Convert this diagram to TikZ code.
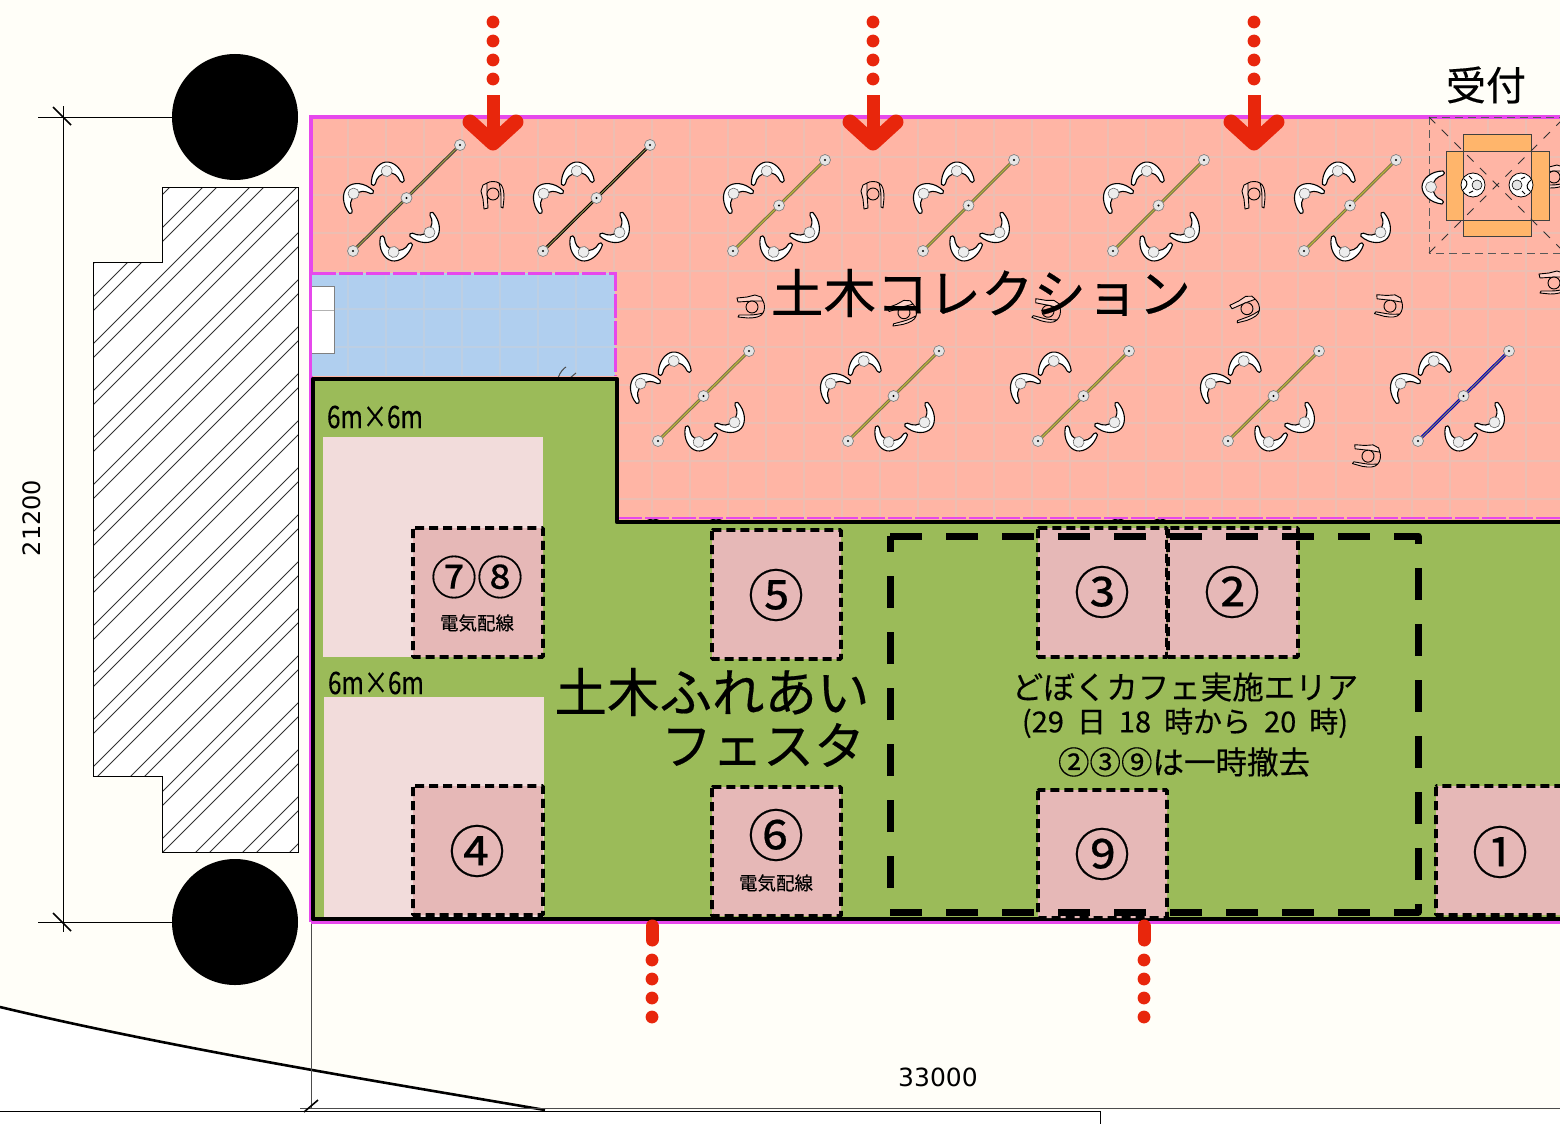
\documentclass[tikz,border=0pt]{standalone}
\usepackage{fontspec}
\setmainfont[FakeBold=0.35]{Noto Sans CJK JP}
\newfontfamily\dimfont{DejaVu Sans}
\newcommand{\szf}[1]{\fontsize{#1}{#1}\selectfont}
\definecolor{pageb}{HTML}{FFFEF8}
\definecolor{pinkf}{HTML}{FFB5A5}
\definecolor{pinkg}{HTML}{EDBEB2}
\definecolor{bluef}{HTML}{B0CFEF}
\definecolor{blueg}{HTML}{BDCFE3}
\definecolor{greenf}{HTML}{9BBB59}
\definecolor{lightp}{HTML}{F2DCDB}
\definecolor{boothf}{HTML}{E6B8B7}
\definecolor{magl}{HTML}{E648EC}
\definecolor{redf}{HTML}{E8260C}
\definecolor{orangef}{HTML}{FFB56B}
\tikzset{
  x=1pt,y=-1pt,
  txt/.style={inner sep=0pt,outer sep=0pt,text=black,align=center},
  booth/.style={fill=boothf,draw=black,line width=3.6pt,dash pattern=on 9pt off 5pt,rounded corners=1pt},
  lightbox/.style={fill=lightp,draw=none},
  dimline/.style={draw=black,line width=0.8pt},
  tick/.style={draw=black,line width=1.6pt},
  reddot/.style={fill=redf,draw=none},
  redshaft/.style={draw=redf,line width=13pt,line cap=round,line join=round},
  redhead/.style={draw=redf,line width=15pt,line cap=round,line join=round},
  person/.pic={
    \path[fill=white,draw=black,line width=1.1pt,line join=round]
      (-16,-10) .. controls (-16,2) and (-8,11) .. (0,11)
      .. controls (8,11) and (16,2) .. (17,-9)
      .. controls (16,-11) and (14,-11) .. (13,-9)
      .. controls (11,-3) and (7,0) .. (0,0)
      .. controls (-7,0) and (-10,-4) .. (-12,-10)
      .. controls (-13,-12) and (-15,-12) .. (-16,-10) -- cycle;
    \path[fill=white!93!black,draw=black!60,line width=0.6pt] (0,2) circle (5.5);
  },
  smallman/.pic={
    \path[draw=black,line width=0.9pt,fill=white!40!pinkf,line join=round]
      (-10,-10) -- (-6,-12) -- (-6,-2) -- (-5,13) -- (-9,14) -- (-10,4) -- (-12,-4) -- cycle;
    \path[draw=black,line width=0.9pt,fill=white!40!pinkf,line join=round]
      (6,-12) .. controls (10,-10) and (11,-4) .. (11,3) -- (10,13) -- (8,12) -- (8,2) .. controls (8,-4) and (7,-8) .. (6,-12) -- cycle;
    \path[draw=black,line width=0.9pt,fill=pinkf] (0,-1) circle (6);
    \path[draw=black,line width=0.9pt] (-6,-12) .. controls (-3,-14) and (3,-14) .. (6,-12);
  },
  topman/.pic={
    \path[fill=white,draw=black,line width=0.8pt] (0,0) circle (12);
    \path[fill=white!90!black,draw=black,line width=0.6pt] (4,0) circle (5);
    \path[draw=black,line width=1pt] (-9,-6) .. controls (-4,-3) and (-6,2) .. (-10,5) (-4,-9) -- (-1,-6) (-4,8) -- (0,6);
  },
}
% table: end x,y ; far-end dx,dy ; line colour ; shift of the two upper people
\newcommand{\tablegrp}[6]{%
  \path pic[rotate=-135] at (#1+2+#6,#2-56) {person};
  \path pic[rotate=188] at (#1+34+#6,#2-78) {person};
  \path pic[rotate=-12] at (#1+41,#2-1) {person};
  \path pic[rotate=48] at (#1+75,#2-20) {person};
  \draw[#5,line width=3pt] (#1,#2) -- (#1+#3,#2-#4);
  \draw[#5!50!yellow,line width=1pt] (#1,#2) -- (#1+#3,#2-#4);
  \foreach \tf in {0,0.5,1}{
    \path[fill=white!90!black,draw=gray,line width=0.7pt] (#1+\tf*#3,#2-\tf*#4) circle (5.5);
    \path[fill=black] (#1+\tf*#3,#2-\tf*#4) circle (1.2);
  }
}
\begin{document}
\begin{tikzpicture}
\useasboundingbox (0,0) rectangle (1560,1124);
% page
\fill[pageb] (0,0) rectangle (1560,1124);
\fill[white] (0,1007) .. controls (180,1050) and (400,1085) .. (545,1110) -- (1560,1110) -- (1560,1124) -- (0,1124) -- cycle;
\draw[black,line width=2.6pt] (0,1007) .. controls (180,1050) and (400,1085) .. (545,1110);
\draw[black,line width=1pt] (0,1111) -- (1100,1111) -- (1100,1124);
% dimension lines
\draw[dimline] (63,106) -- (63,932);
\draw[dimline] (38,117) -- (175,117);
\draw[dimline] (38,922) -- (175,922);
\draw[tick] (53,107) -- (71,125);
\draw[tick] (53,913) -- (71,931);
\draw[dimline,draw=black!70] (311,922) -- (311,1108);
\draw[dimline,draw=black!70] (300,1108) -- (1560,1108);
\draw[tick] (304,1112) -- (318,1100);
% columns
\fill[black] (235,117) circle (63);
\fill[black] (235,922) circle (63);
% hatched building
\fill[white] (298,187) -- (162,187) -- (162,262) -- (93,262) -- (93,776) -- (162,776) -- (162,852) -- (298,852) -- cycle;
\begin{scope}
\clip (298,187) -- (162,187) -- (162,262) -- (93,262) -- (93,776) -- (162,776) -- (162,852) -- (298,852) -- cycle;
\foreach \hk in {0,1,...,24}{
  \draw[black!80,line width=0.9pt] (0,343+47*\hk) -- (400,343+47*\hk-400);
  \draw[black!80,line width=0.9pt] (0,357+47*\hk) -- (400,357+47*\hk-400);
}
\end{scope}
\draw[black,line width=0.9pt] (298,187) -- (162,187) -- (162,262) -- (93,262) -- (93,776) -- (162,776) -- (162,852) -- (298,852) -- cycle;
% collection area
\fill[pinkf] (311,117) rectangle (1560,922);
\foreach \colx in {348,386,...,1560}{\draw[pinkg,line width=1.2pt] (\colx,118) -- (\colx,520);}
\foreach \rowy in {157,195,233,271,309,347,385,423,461,499}{\draw[pinkg,line width=1.2pt] (312,\rowy) -- (1560,\rowy);}
\draw[magl,line width=3.6pt] (311,922) -- (311,117) -- (1560,117);
\draw[magl,line width=3.6pt] (311,922) -- (1560,922);
% blue area
\fill[bluef] (312,273) rectangle (615,376);
\foreach \colx in {348,386,...,600}{\draw[blueg,line width=1.2pt] (\colx,274) -- (\colx,375);}
\foreach \rowy in {309,347}{\draw[blueg,line width=1.2pt] (312,\rowy) -- (614,\rowy);}
\draw[magl,line width=3pt,dash pattern=on 24pt off 3pt] (312,273) -- (615,273) -- (615,376);
\fill[white] (312,286) rectangle (334,353);
\draw[gray,line width=1pt] (312,286) -- (334,286) -- (334,353) -- (312,353);
\draw[gray!60,line width=0.7pt] (312,310) -- (334,310);
\draw[black!70,line width=1pt] (558,378) .. controls (560,372) and (564,368) .. (566,367) (570,378) -- (576,373);
% tables
\tablegrp{353}{251}{107}{106}{black!85!yellow}{0}
\tablegrp{543}{251}{107}{106}{black}{0}
\tablegrp{733}{251}{92}{91}{black!60!yellow}{0}
\tablegrp{923}{251}{91}{91}{black!60!yellow}{0}
\tablegrp{1113}{251}{91}{91}{black!60!yellow}{0}
\tablegrp{1304}{251}{92}{91}{black!60!yellow}{0}
\tablegrp{658}{441}{91}{90}{black!60!yellow}{-18}
\tablegrp{848}{441}{91}{90}{black!60!yellow}{-18}
\tablegrp{1038}{441}{91}{90}{black!60!yellow}{-18}
\tablegrp{1228}{441}{91}{90}{black!60!yellow}{-18}
\tablegrp{1418}{441}{91}{90}{blue!75!black}{-18}
% standing people
\path pic at (493,195) {smallman};
\path pic at (873,195) {smallman};
\path pic at (1254,195) {smallman};
\path pic[rotate=-90] at (751,307) {smallman};
\path pic[rotate=-75] at (903,313) {smallman};
\path pic[rotate=-105] at (1047,311) {smallman};
\path pic[rotate=-70] at (1246,309) {smallman};
\path pic[rotate=-100] at (1389,306) {smallman};
\path pic[rotate=-100] at (1367,456) {smallman};
\path pic[rotate=-90] at (1553,283) {smallman};
\path pic[rotate=-90] at (1553,177) {smallman};
% people hidden behind the green floor
\path pic[rotate=180] at (653,530) {person};
\path pic[rotate=180] at (716,530) {person};
\path pic[rotate=180] at (1118,530) {person};
\path pic[rotate=180] at (1160,530) {person};
% reception
\path[fill=orangef,draw=black!75,line width=1pt] (1463,134) rectangle (1531,151);
\path[fill=orangef,draw=black!75,line width=1pt] (1463,220) rectangle (1531,236);
\path[fill=orangef,draw=black!75,line width=1pt] (1446,151) rectangle (1463,220);
\path[fill=orangef,draw=black!75,line width=1pt] (1531,151) rectangle (1549,220);
\fill[pinkf] (1463,151) rectangle (1531,220);
\draw[black!75,line width=1pt] (1463,151) rectangle (1531,220);
\draw[black!65,line width=1pt,dash pattern=on 8pt off 5pt] (1429,117) -- (1560,117);
\draw[black!65,line width=1pt,dash pattern=on 8pt off 5pt] (1429,117) -- (1429,253) -- (1560,253);
\draw[black!80,line width=0.9pt,dash pattern=on 9pt off 9pt] (1429,117) -- (1565,253);
\draw[black!80,line width=0.9pt,dash pattern=on 9pt off 9pt] (1429,253) -- (1565,117);
\path pic[rotate=0] at (1473,185) {topman};
\path pic[rotate=180] at (1521,185) {topman};
\path pic[rotate=-90] at (1433,187) {person};
% green floor
\fill[greenf] (313,379) -- (617,379) -- (617,521) -- (1560,521) -- (1560,919) -- (313,919) -- cycle;
\draw[magl,line width=2.4pt,dash pattern=on 24pt off 3pt] (618,518) -- (1560,518);
\draw[black,line width=4.8pt,line join=round] (1560,522) -- (617,522) -- (617,379) -- (313,379) -- (313,919) -- (1560,919);
% light pink plots
\path[lightbox] (323,437) rectangle (543,657);
\path[lightbox] (324,697) rectangle (544,917);
% booths
\path[booth] (413,528) rectangle (543,657);
\path[booth] (712,530) rectangle (841,659);
\path[booth] (1038,528) rectangle (1167,657);
\path[booth] (1168,528) rectangle (1298,657);
\path[booth] (413,786) rectangle (543,915);
\path[booth] (712,787) rectangle (841,916);
\path[booth] (1038,790) rectangle (1167,918);
\path[booth] (1436,786) rectangle (1575,915);
% cafe area
\draw[black,line width=7pt,dash pattern=on 32pt off 24pt,line join=round] (890,536) -- (1418,536) -- (1418,912) -- (890,912) -- cycle;
% arrows
\foreach \ax in {493,873,1254}{
  \foreach \ay in {22,41,60,79}{\path[reddot] (\ax,\ay) circle (6.4);}
  \draw[redshaft,line cap=butt] (\ax,95) -- (\ax,140);
  \draw[redhead] (\ax-23,122) -- (\ax,143) -- (\ax+23,122);
}
\foreach \ax in {652,1144}{
  \foreach \ay in {960,979,998,1017}{\path[reddot] (\ax,\ay) circle (6.4);}
  \draw[redshaft] (\ax,926) -- (\ax,940);
}
% texts
\node[txt] (tDim) at (32,518) {\rotatebox{90}{\dimfont\szf{24}21200}};
\node[txt] (tDimB) at (938,1077) {\dimfont\szf{25}33000};
\node[txt] (tUke) at (1486,85) {\szf{40}受付};
\node[txt] (tColl) at (981,293) {\szf{52.5}土木コレクション};
\node[txt] (tFes) at (712,692) {\szf{52.5}土木ふれあい};
\node[txt] (tFes2) at (763,745) {\szf{51}フェスタ};
\node[txt] (tSize1) at (375,417) {\scalebox{0.78}[1]{\szf{31}6m×6m}};
\node[txt] (tSize2) at (376,683) {\scalebox{0.78}[1]{\szf{31}6m×6m}};
\node[txt] (tCafe1) at (1185,687) {\szf{31.5}どぼくカフェ実施エリア};
\node[txt] (tCafe2) at (1185,723) {\szf{29}\spaceskip=13pt\relax (29 日 18 時から 20 時)};
\node[txt] (tCafe3) at (1184,762) {\szf{31.5}②③⑨は一時撤去};
\node[txt] (n78) at (477,577) {\szf{46}⑦⑧};
\node[txt] (n78b) at (477,623) {\szf{18.5}電気配線};
\node[txt] (n5) at (776,595) {\szf{56}⑤};
\node[txt] (n3) at (1102,592) {\szf{56}③};
\node[txt] (n2) at (1232,592) {\szf{56}②};
\node[txt] (n4) at (477,851) {\szf{56}④};
\node[txt] (n6) at (776,835) {\szf{56}⑥};
\node[txt] (n6b) at (776,883) {\szf{18.5}電気配線};
\node[txt] (n9) at (1102,854) {\szf{56}⑨};
\node[txt] (n1) at (1500,852) {\szf{56}①};
\end{tikzpicture}
\end{document}
